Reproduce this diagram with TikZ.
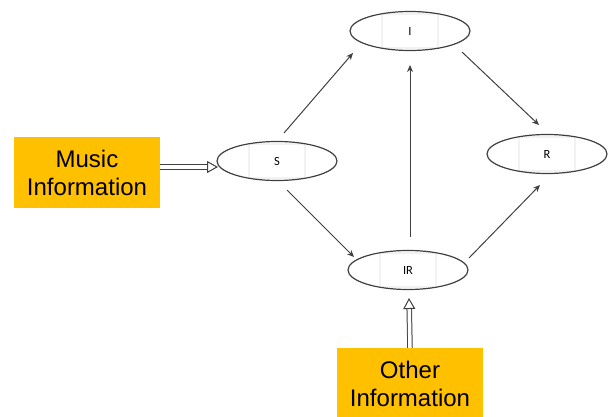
\documentclass[tikz,border=0pt]{standalone}
\usepackage{fontspec}
\setmainfont{Liberation Sans}
\newfontfamily\calibri{Carlito}
\usetikzlibrary{shapes.geometric,arrows.meta,calc}
\definecolor{gold}{HTML}{FFC000}
\definecolor{edgegray}{HTML}{404040}
\begin{document}
\begin{tikzpicture}[x=1pt,y=-1pt,
 state/.style={ellipse, draw=edgegray, line width=1.2pt, minimum width=120pt, minimum height=39pt, inner sep=0pt,
   font=\calibri\fontsize{12.5}{14}\selectfont,
   path picture={\draw[black!5] ($(path picture bounding box.center)+(-28,-17)$) rectangle ($(path picture bounding box.center)+(28,17)$);}},
 info/.style={fill=gold, minimum width=146pt, minimum height=71pt, align=center, inner sep=0pt, font=\fontsize{24}{28}\selectfont},
 link/.style={draw=edgegray, line width=1pt, -{Stealth[length=7pt,width=6pt]}},
 feed/.style={draw=edgegray, double distance=3.5pt, line width=1pt, -{Triangle[open,length=11pt,width=12pt]}}]
\useasboundingbox (0,0) rectangle (608,417);
\node[state] (I) at (410,31) {I};
\node[state] (S) at (277,161) {S};
\node[state] (IR) at (408,270) {IR};
\node[state] (R) at (547,154) {R};
\node[info] (M) at (87,172.5) {Music\\Information};
\node[info] (O) at (410,383.5) {Other\\Information};
\draw[link] ($(S.center)+(7,-28)$) -- ($(I.center)+(-57,22)$);
\draw[link] ($(S.center)+(10,29)$) -- ($(IR.center)+(-54,-13)$);
\draw[link] ($(I.center)+(52,21)$) -- ($(R.center)+(-8,-29)$);
\draw[link] ($(IR.center)+(61,-12)$) -- ($(R.center)+(-7,31)$);
\draw[link] ($(IR.center)+(2,-33)$) -- ($(I.center)+(0,34)$);
\draw[feed] ($(M.east)+(0,-5.5)$) -- ($(S.center)+(-59,6)$);
\draw[feed] (O.north) -- ($(IR.center)+(1,28)$);
\end{tikzpicture}
\end{document}
